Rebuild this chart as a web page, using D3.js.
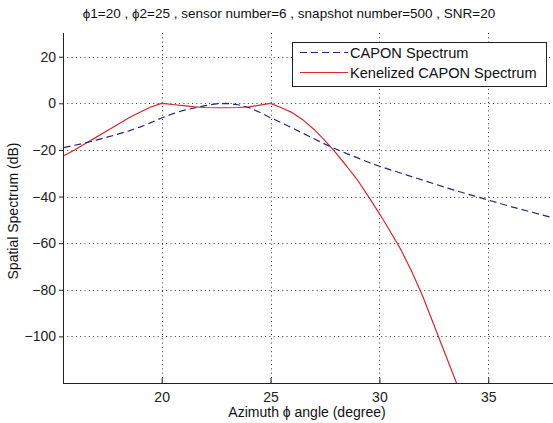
<!DOCTYPE html>
<html><head><meta charset="utf-8">
<script src="https://cdn.jsdelivr.net/npm/d3@7"></script>
<style>
html,body{margin:0;padding:0;background:#fff;}
svg{display:block;font-family:"Liberation Sans",Arial,Helvetica,sans-serif;}
</style></head>
<body>
<script>
const titleText = "\u03D51=20 , \u03D52=25 , sensor number=6 , snapshot number=500 , SNR=20";
const xLabel = "Azimuth \u03D5 angle (degree)";
const yLabel = "Spatial Spectrum (dB)";
const seriesNames = ["CAPON Spectrum", "Kenelized CAPON Spectrum"];
const xTicks = [20, 25, 30, 35];
const yTicks = [20, 0, -20, -40, -60, -80, -100];

const caponAngles = [15.5,16,16.5,17,17.5,18,18.5,19,19.5,20,20.5,21,21.5,22,22.5,23,23.5,24,24.5,25,25.5,26,26.5,27,27.5,28,28.5,29,29.5,30,31,32,33,34,35,36,37,38];
const caponValues = [-19,-18,-17,-15.8,-14.5,-13.2,-11.8,-10.2,-8.3,-6.3,-4.5,-3.0,-2.0,-1.0,-0.2,0,-0.6,-1.8,-3.8,-6.2,-8.3,-10.6,-12.9,-15.2,-17.5,-19.6,-21.6,-23.4,-25.3,-27.0,-30,-33,-36,-38.8,-41.5,-44.2,-46.7,-49.2];

const kernelAngles = [15.5,16,16.5,17,17.5,18,18.5,19,19.5,20,20.5,21,21.5,22,22.5,23,23.5,24,24.5,25,25.5,26,26.5,27,27.5,28,28.5,29,29.5,30,30.5,31,31.5,32,32.5,33,33.5,34];
const kernelValues = [-22.5,-20,-17.2,-14.5,-11.8,-9.0,-6.2,-3.8,-1.6,0,-0.5,-1.0,-1.5,-1.8,-1.9,-1.9,-1.8,-1.5,-0.8,0,-1.9,-4.0,-7.2,-11.2,-16,-21.3,-27,-33,-40,-47.3,-55,-63,-72.5,-83,-95,-107,-119,-131];

const W = 553, H = 423;
const svg = d3.select("body").append("svg").attr("width", W).attr("height", H);
const x = d3.scaleLinear().domain([15.47, 38]).range([63, 553.6]);
const y = d3.scaleLinear().domain([-120, 30]).range([383, 33.4]);
const pL = 63, pR = 553.6, pT = 33, pB = 383;

// grid
const grid = svg.append("g").attr("stroke", "#333").attr("stroke-width", 1).attr("stroke-dasharray", "1,3.3");
grid.selectAll("line.h").data(yTicks).join("line").attr("class", "h")
  .attr("x1", pL).attr("x2", pR)
  .attr("y1", d => Math.round(y(d)) + 0.5).attr("y2", d => Math.round(y(d)) + 0.5);
grid.selectAll("line.v").data(xTicks).join("line").attr("class", "v")
  .attr("y1", pT).attr("y2", pB)
  .attr("x1", d => Math.round(x(d)) + 0.5).attr("x2", d => Math.round(x(d)) + 0.5);

// clip
svg.append("clipPath").attr("id", "clip").append("rect")
  .attr("x", pL).attr("y", pT).attr("width", pR - pL).attr("height", pB - pT);

const line = d3.line().x(d => x(d[0])).y(d => y(d[1]));
const capon = caponAngles.map((a, i) => [a, caponValues[i]]);
const kernel = kernelAngles.map((a, i) => [a, kernelValues[i]]);
const plot = svg.append("g").attr("clip-path", "url(#clip)");
plot.append("path").datum(kernel).attr("d", line).attr("fill", "none")
  .attr("stroke", "#d8282c").attr("stroke-width", 1.2).attr("stroke-linejoin", "round");
plot.append("path").datum(capon).attr("d", line).attr("fill", "none")
  .attr("stroke", "#26267f").attr("stroke-width", 1.2).attr("stroke-dasharray", "7,4");

// axes
const xAxis = d3.axisBottom(x).tickValues(xTicks).tickSizeInner(-5).tickSizeOuter(0).tickPadding(9);
const yAxis = d3.axisLeft(y).tickValues(yTicks).tickSizeInner(4).tickSizeOuter(0).tickPadding(3);
const gx = svg.append("g").attr("transform", `translate(0,${pB})`).call(xAxis);
const gy = svg.append("g").attr("transform", `translate(${pL},0)`).call(yAxis);
[gx, gy].forEach(g => {
  g.select(".domain").attr("stroke", "#222");
  g.selectAll(".tick line").attr("stroke", "#222");
  g.selectAll(".tick text").attr("font-size", 14).attr("fill", "#222")
    .attr("font-family", "'Liberation Sans',Arial,sans-serif");
});
gy.select(".domain").attr("d", `M0.5,${pT}V${pB}`);
gx.select(".domain").attr("d", `M${pL},0.5H${pR}`);

// title & labels
svg.append("text").attr("x", 289).attr("y", 18).attr("text-anchor", "middle")
  .attr("font-size", 13.5).attr("fill", "#111").text(titleText);
svg.append("text").attr("x", 307).attr("y", 417).attr("text-anchor", "middle")
  .attr("font-size", 14).attr("fill", "#111").text(xLabel);
svg.append("text").attr("transform", "translate(18,211) rotate(-90)").attr("text-anchor", "middle")
  .attr("font-size", 14).attr("fill", "#111").text(yLabel);

// legend
const lg = svg.append("g");
lg.append("rect").attr("x", 292.5).attr("y", 42.5).attr("width", 254).attr("height", 44)
  .attr("fill", "#fff").attr("stroke", "#222").attr("stroke-width", 1);
const rows = [
  {name: seriesNames[0], color: "#26267f", dash: "7,4", y: 52.5},
  {name: seriesNames[1], color: "#d8282c", dash: null, y: 72.5}
];
rows.forEach(r => {
  lg.append("line").attr("x1", 300).attr("x2", 348).attr("y1", r.y).attr("y2", r.y)
    .attr("stroke", r.color).attr("stroke-width", 1.2).attr("stroke-dasharray", r.dash);
  lg.append("text").attr("x", 350).attr("y", r.y + 5).attr("font-size", 14.6).attr("fill", "#111").text(r.name);
});
</script>
</body></html>
